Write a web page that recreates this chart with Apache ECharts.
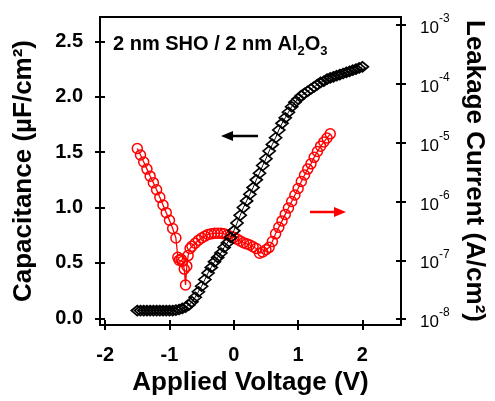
<!DOCTYPE html>
<html><head><meta charset="utf-8">
<script src="https://cdn.jsdelivr.net/npm/echarts@6/dist/echarts.min.js"></script>
<style>html,body{margin:0;padding:0;background:#fff}#c{width:495px;height:401px}</style>
</head><body><div id="c"></div><script>
// Capacitance (black diamonds, left axis)
const capVoltage = [-1.50,-1.45,-1.40,-1.35,-1.30,-1.25,-1.20,-1.15,-1.10,-1.05,-1.00,-0.95,-0.90,-0.85,-0.80,-0.75,-0.70,-0.65,-0.60,-0.55,-0.50,-0.45,-0.40,-0.35,-0.30,-0.25,-0.20,-0.15,-0.10,-0.05,0.00,0.05,0.10,0.15,0.20,0.25,0.30,0.35,0.40,0.45,0.50,0.55,0.60,0.65,0.70,0.75,0.80,0.85,0.90,0.95,1.00,1.05,1.10,1.15,1.20,1.25,1.30,1.35,1.40,1.45,1.50,1.55,1.60,1.65,1.70,1.75,1.80,1.85,1.90,1.95,2.00];
const capacitance = [0.07,0.07,0.07,0.07,0.07,0.07,0.07,0.07,0.07,0.07,0.07,0.07,0.075,0.08,0.09,0.10,0.12,0.15,0.19,0.24,0.29,0.35,0.41,0.46,0.51,0.55,0.59,0.64,0.68,0.73,0.79,0.86,0.93,1.00,1.06,1.12,1.18,1.25,1.31,1.38,1.44,1.51,1.57,1.63,1.70,1.76,1.81,1.86,1.91,1.95,1.98,2.01,2.03,2.05,2.07,2.09,2.11,2.13,2.14,2.16,2.17,2.18,2.19,2.20,2.21,2.22,2.23,2.24,2.25,2.26,2.27];
// Leakage current (red circles, right log axis), stored as log10(J in A/cm^2)
const leakVoltage = [-1.50,-1.45,-1.40,-1.35,-1.30,-1.25,-1.20,-1.15,-1.10,-1.05,-1.00,-0.95,-0.90,-0.87,-0.85,-0.82,-0.80,-0.77,-0.75,-0.73,-0.71,-0.68,-0.65,-0.60,-0.55,-0.50,-0.45,-0.40,-0.35,-0.30,-0.25,-0.20,-0.15,-0.10,-0.05,0.00,0.05,0.10,0.15,0.20,0.25,0.30,0.35,0.40,0.45,0.50,0.55,0.60,0.65,0.70,0.75,0.80,0.85,0.90,0.95,1.00,1.05,1.10,1.15,1.20,1.25,1.30,1.35,1.40,1.45,1.50];
const leakExponent = [-5.10,-5.21,-5.33,-5.45,-5.57,-5.68,-5.80,-5.93,-6.06,-6.19,-6.32,-6.46,-6.62,-6.95,-7.00,-6.98,-7.02,-7.15,-7.42,-7.10,-6.92,-6.80,-6.76,-6.71,-6.66,-6.62,-6.59,-6.56,-6.55,-6.54,-6.54,-6.54,-6.55,-6.57,-6.59,-6.61,-6.64,-6.67,-6.70,-6.72,-6.74,-6.77,-6.80,-6.88,-6.86,-6.82,-6.78,-6.68,-6.55,-6.44,-6.33,-6.22,-6.11,-6.00,-5.89,-5.78,-5.66,-5.55,-5.45,-5.36,-5.25,-5.15,-5.06,-4.99,-4.92,-4.85];
const xTicks = [-2,-1,0,1,2];
const capTicks = [0,0.5,1.0,1.5,2.0,2.5];
const leakTicks = [1e-8,1e-7,1e-6,1e-5,1e-4,1e-3];

const FONT = "'Liberation Sans', Arial, sans-serif";
const X_MIN = -2.08, X_MAX = 2.6;
const C_MIN = -0.06, C_MAX = 2.72;
const J_MIN = Math.pow(10,-8.1), J_MAX = Math.pow(10,-2.864);
const axisLine = {show:true, onZero:false, lineStyle:{color:'#000', width:2}};
const noLine = {show:false, onZero:false};
const titleStyle = {color:'#000', fontFamily:FONT, fontWeight:'bold', fontSize:26};

const chart = echarts.init(document.getElementById('c'), null, {renderer:'canvas'});
const option = {
  animation:false,
  backgroundColor:'#fff',
  grid:{left:100, right:90, top:17, bottom:76, show:true, borderColor:'#000', borderWidth:2, backgroundColor:'transparent'},
  xAxis:[
    {type:'value', min:X_MIN, max:X_MAX, position:'bottom', axisLine,
     splitLine:{show:false},
     axisTick:{show:true, inside:false, length:5, lineStyle:{color:'#000', width:2}, customValues:xTicks},
     axisLabel:{show:true, customValues:xTicks, margin:20, color:'#000', fontFamily:FONT, fontWeight:'bold', fontSize:20},
     name:'Applied Voltage (V)', nameLocation:'middle', nameGap:45, nameTextStyle:titleStyle},
    {type:'value', min:X_MIN, max:X_MAX, position:'bottom', axisLine:noLine, splitLine:{show:false},
     axisTick:{show:true, inside:true, length:5, lineStyle:{color:'#000', width:2}, customValues:xTicks},
     axisLabel:{show:false}}
  ],
  yAxis:[
    {type:'value', min:C_MIN, max:C_MAX, position:'left', axisLine, splitLine:{show:false},
     axisTick:{show:true, inside:false, length:5, lineStyle:{color:'#000', width:2}, customValues:capTicks},
     axisLabel:{show:true, customValues:capTicks, margin:17, color:'#000', fontFamily:FONT, fontWeight:'bold', fontSize:20,
       formatter:v=>v.toFixed(1)},
     name:'Capacitance (µF/cm²)', nameLocation:'middle', nameGap:63, nameTextStyle:titleStyle},
    {type:'value', min:C_MIN, max:C_MAX, position:'left', axisLine:noLine, splitLine:{show:false},
     axisTick:{show:true, inside:true, length:5, lineStyle:{color:'#000', width:2}, customValues:capTicks},
     axisLabel:{show:false}},
    {type:'log', logBase:10, min:J_MIN, max:J_MAX, position:'right', axisLine, splitLine:{show:false},
     axisTick:{show:true, inside:false, length:5, lineStyle:{color:'#000', width:2}, customValues:leakTicks},
     axisLabel:{show:true, customValues:leakTicks, margin:19, color:'#000', fontFamily:FONT,
       formatter:v=>'{b|10}{s|' + Math.round(Math.log10(v)) + '}',
       rich:{b:{fontSize:17, fontFamily:FONT, color:'#000', lineHeight:24, verticalAlign:'bottom'},
             s:{fontSize:12, fontFamily:FONT, color:'#000', lineHeight:24, verticalAlign:'top'}}},
     name:'Leakage Current (A/cm²)', nameLocation:'middle', nameGap:60, nameRotate:-90, nameTextStyle:titleStyle},
    {type:'log', logBase:10, min:J_MIN, max:J_MAX, position:'right', axisLine:noLine, splitLine:{show:false},
     axisTick:{show:true, inside:true, length:5, lineStyle:{color:'#000', width:2}, customValues:leakTicks},
     axisLabel:{show:false}}
  ],
  series:[
    {type:'line', xAxisIndex:0, yAxisIndex:0, data:capVoltage.map((v,i)=>[v,capacitance[i]]),
     symbol:'diamond', symbolSize:[12,10], showAllSymbol:true, z:3,
     lineStyle:{color:'#000', width:1},
     itemStyle:{color:'rgba(0,0,0,0)', borderColor:'#000', borderWidth:1.7}},
    {type:'line', xAxisIndex:0, yAxisIndex:2, data:leakVoltage.map((v,i)=>[v,Math.pow(10,leakExponent[i])]),
     symbol:'circle', symbolSize:10, showAllSymbol:true, z:2,
     lineStyle:{color:'#ff0000', width:1.3},
     itemStyle:{color:'rgba(0,0,0,0)', borderColor:'#ff0000', borderWidth:1.5}}
  ],
  graphic:[
    {type:'text', left:113, top:34, z:10,
     style:{text:'{m|2 nm SHO / 2 nm Al}{sub|2}{m|O}{sub|3}', fontFamily:FONT,
       rich:{m:{fontSize:20, fontWeight:'bold', fontFamily:FONT, fill:'#000', lineHeight:24, verticalAlign:'top'},
             sub:{fontSize:13, fontWeight:'bold', fontFamily:FONT, fill:'#000', lineHeight:24, verticalAlign:'bottom'}}}},
    {type:'line', z:10, shape:{x1:230, y1:136, x2:258, y2:136}, style:{stroke:'#000', lineWidth:2.5}},
    {type:'polygon', z:10, shape:{points:[[221,136],[233,131],[233,141]]}, style:{fill:'#000'}},
    {type:'line', z:10, shape:{x1:310, y1:212, x2:337, y2:212}, style:{stroke:'#ff0000', lineWidth:2.5}},
    {type:'polygon', z:10, shape:{points:[[346,212],[334,207],[334,217]]}, style:{fill:'#ff0000'}}
  ]
};
chart.setOption(option);
</script></body></html>
